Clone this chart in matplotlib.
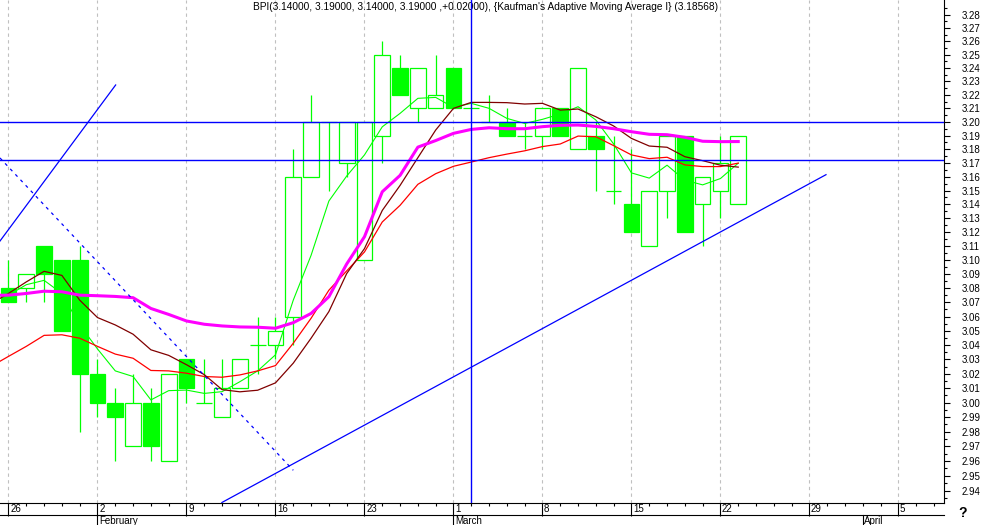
import numpy as np
import pandas as pd
import matplotlib
matplotlib.use("Agg")
import matplotlib.pyplot as plt
from matplotlib.ticker import FixedLocator, FixedFormatter, NullFormatter

plt.rcParams['font.family'] = ['Liberation Sans', 'DejaVu Sans']

# daily bars of BPI, 26 Jan - 23 Mar 2004
opens  = [3.08, 3.08, 3.11, 3.10, 3.10, 3.02, 3.00, 2.97, 3.00, 2.96,
          3.03, 3.00, 2.99, 3.01, 3.04, 3.04, 3.06, 3.16, 3.20, 3.17,
          3.10, 3.19, 3.24, 3.21, 3.21, 3.24, 3.21, 3.20, 3.20, 3.19,
          3.19, 3.21, 3.18, 3.19, 3.15, 3.14, 3.11, 3.15, 3.19, 3.14,
          3.15, 3.14]
highs  = [3.10, 3.09, 3.11, 3.10, 3.11, 3.03, 3.01, 3.02, 3.01, 3.02,
          3.03, 3.03, 3.03, 3.03, 3.06, 3.06, 3.18, 3.22, 3.20, 3.20,
          3.20, 3.26, 3.25, 3.24, 3.25, 3.24, 3.21, 3.22, 3.21, 3.20,
          3.21, 3.21, 3.24, 3.20, 3.19, 3.18, 3.15, 3.19, 3.19, 3.16,
          3.19, 3.19]
lows   = [3.07, 3.07, 3.07, 3.05, 2.98, 2.99, 2.96, 2.97, 2.96, 2.96,
          3.00, 3.00, 2.99, 3.01, 3.02, 3.03, 3.04, 3.16, 3.15, 3.16,
          3.10, 3.17, 3.22, 3.20, 3.21, 3.21, 3.21, 3.20, 3.19, 3.18,
          3.18, 3.19, 3.18, 3.15, 3.14, 3.12, 3.11, 3.13, 3.12, 3.11,
          3.13, 3.14]
closes = [3.07, 3.09, 3.09, 3.05, 3.02, 3.00, 2.99, 3.00, 2.97, 3.02,
          3.01, 3.00, 3.01, 3.03, 3.04, 3.05, 3.16, 3.20, 3.20, 3.20,
          3.20, 3.25, 3.22, 3.24, 3.22, 3.21, 3.21, 3.20, 3.19, 3.19,
          3.21, 3.19, 3.24, 3.18, 3.15, 3.12, 3.15, 3.19, 3.12, 3.16,
          3.17, 3.19]

# indicator lines, first value belongs to the day before the first bar
kama     = [3.075, 3.0751, 3.0763, 3.0779, 3.0775, 3.0751, 3.0747, 3.0742, 3.0733, 3.0657,
            3.0615, 3.0569, 3.0546, 3.0534, 3.0527, 3.0525, 3.0518, 3.0557, 3.0622, 3.074,
            3.0972, 3.1167, 3.1491, 3.161, 3.1816, 3.1864, 3.1917, 3.1946, 3.1958, 3.1951,
            3.1951, 3.1966, 3.1976, 3.1978, 3.1968, 3.1951, 3.1929, 3.191, 3.1907, 3.1888,
            3.1859, 3.1856, 3.18568]
ma_dark  = [3.069, 3.0763, 3.0845, 3.092, 3.0891, 3.0716, 3.0593, 3.0541, 3.0476, 3.0367,
            3.0328, 3.0263, 3.0194, 3.009, 3.0075, 3.0086, 3.0137, 3.0274, 3.0448, 3.0635,
            3.0904, 3.1082, 3.1356, 3.1537, 3.1739, 3.1941, 3.2101, 3.2145, 3.2145, 3.2143,
            3.2133, 3.2138, 3.2088, 3.2096, 3.2039, 3.1971, 3.188, 3.1824, 3.1815, 3.1746,
            3.1717, 3.1684, 3.167]
ma_red   = [3.025, 3.0321, 3.0391, 3.0468, 3.0472, 3.0448, 3.0391, 3.0337, 3.0308, 3.0223,
            3.022, 3.0204, 3.0181, 3.0176, 3.0192, 3.022, 3.0257, 3.0413, 3.0588, 3.0786,
            3.0923, 3.1058, 3.1273, 3.1393, 3.1545, 3.1622, 3.1676, 3.1707, 3.1739, 3.1765,
            3.1789, 3.182, 3.1839, 3.1897, 3.1892, 3.1827, 3.1759, 3.1732, 3.1742, 3.1686,
            3.1674, 3.1674, 3.1699]
ma_green = [np.nan, 3.0751, 3.0825, 3.0856, 3.0763, 3.0541, 3.0373, 3.022, 3.0181, 3.0019,
            3.0083, 3.0087, 3.0064, 3.0076, 3.0145, 3.022, 3.0332, 3.0716, 3.1034, 3.1424,
            3.1605, 3.1759, 3.1965, 3.2064, 3.2175, 3.2182, 3.2108, 3.2138, 3.2101, 3.2027,
            3.199, 3.202, 3.2059, 3.2113, 3.2015, 3.1839, 3.1628, 3.159, 3.1684, 3.1575,
            3.1541, 3.1587, 3.1699]

# drawn objects (bar index, price)
h_levels = [3.20, 3.1722]
v_day = 26
trend_up_short = [(-0.48, 3.1136), (6.02, 3.2274)]
trend_up_long = [(11.99, 2.9319), (45.93, 3.1615)]
trend_down = [(-0.48, 3.1737), (16.0, 2.9537)]

dates = pd.bdate_range('2004-01-26', periods=53)

GREEN = '#00ff00'
BLUE = '#0000ff'

fig = plt.figure(figsize=(9.82, 5.25), dpi=100)
ax = fig.add_axes([0, 22.5 / 525, 944 / 982, 502.5 / 525])
ax.set_yscale('log')
x0, x1 = -0.4775, 52.56
ax.set_xlim(x0, x1)
ax.set_ylim(2.9319, 3.2911)

# weekly grid
week_idx = [i for i, d in enumerate(dates) if d.weekday() == 0]
for i in week_idx:
    ax.axvline(i, color='#c0c0c0', lw=0.8, ls=(0, (3, 3)), zorder=0.5)

# candles
o, h, l, c = map(np.array, (opens, highs, lows, closes))
x = np.arange(len(o))
up, down, flat = c > o, c < o, np.isclose(c, o)
w = 0.88
ax.vlines(x, l, h, color=GREEN, lw=0.9, zorder=2)
ax.bar(x[up], (c - o)[up], bottom=o[up], width=w, facecolor='white',
       edgecolor=GREEN, lw=0.9, zorder=3)
ax.bar(x[down & ~flat], (o - c)[down & ~flat], bottom=c[down & ~flat], width=w,
       facecolor=GREEN, edgecolor=GREEN, lw=0.9, zorder=3)
ax.hlines(o[flat], x[flat] - w / 2, x[flat] + w / 2, color=GREEN, lw=0.9, zorder=3)

# indicators
xm = np.arange(-1, len(o))
ax.plot(xm, ma_green, color=GREEN, lw=0.8, zorder=4)
ax.plot(xm, ma_red, color='#ff0000', lw=0.9, zorder=4)
ax.plot(xm, ma_dark, color='#800000', lw=0.9, zorder=4)
ax.plot(xm, kama, color='#ff00ff', lw=2.2, zorder=4.5)

# drawing tools
for lv in h_levels:
    ax.axhline(lv, color=BLUE, lw=1.0, zorder=5)
ax.axvline(v_day, color=BLUE, lw=1.0, zorder=5)
for seg in (trend_up_short, trend_up_long):
    ax.plot([p[0] for p in seg], [p[1] for p in seg], color=BLUE, lw=0.9, zorder=5)
ax.plot([p[0] for p in trend_down], [p[1] for p in trend_down], color=BLUE,
        lw=0.9, ls=(0, (2.5, 3.5)), zorder=5)

# spines
for s in ('top', 'left'):
    ax.spines[s].set_visible(False)
for s in ('right', 'bottom'):
    ax.spines[s].set_linewidth(0.8)

# price axis
ax.yaxis.tick_right()
yt = np.round(np.arange(2.94, 3.2851, 0.01), 2)
ax.yaxis.set_major_locator(FixedLocator(yt))
ax.yaxis.set_major_formatter(FixedFormatter([f'{v:.2f}' for v in yt]))
ax.yaxis.set_minor_locator(FixedLocator(np.round(np.arange(2.935, 3.29, 0.01), 3)))
ax.yaxis.set_minor_formatter(NullFormatter())
ax.tick_params(axis='y', which='major', length=4.3, width=0.8, pad=8.2, labelsize=7)
ax.tick_params(axis='y', which='minor', length=2.2, width=0.8)

# date axis
ax.xaxis.set_major_locator(FixedLocator(week_idx))
ax.xaxis.set_minor_locator(FixedLocator(list(x) + list(range(len(o), 53))))
ax.tick_params(axis='x', which='major', length=9.0, width=0.8, labelbottom=False)
ax.tick_params(axis='x', which='minor', length=2.2, width=0.8)
xt = ax.get_xaxis_transform()
for i in week_idx:
    ax.text(i + 0.09, -0.0125, str(dates[i].day), transform=xt, ha='left',
            va='center', fontsize=7)
ax.plot([x0, x1], [-0.0245, -0.0245], transform=xt, color='black', lw=0.8, clip_on=False)
month_idx = [i for i in range(1, len(dates)) if dates[i].month != dates[i - 1].month]
for i in month_idx:
    ax.plot([i, i], [-0.0245, -0.06], transform=xt, color='black', lw=0.8, clip_on=False)
    ax.text(i + 0.09, -0.037, dates[i].strftime('%B'), transform=xt, ha='left',
            va='center', fontsize=7)

title = (f"BPI({opens[-1]:.5f}, {highs[-1]:.5f}, {lows[-1]:.5f}, {closes[-1]:.5f} ,"
         f"{closes[-1] - closes[-2]:+.5f}), {{Kaufman's Adaptive Moving Average I}} "
         f"({kama[-1]:.5f})")
ax.text(253 / 944, 1 - 7 / 502.5, title, transform=ax.transAxes, ha='left',
        va='center', fontsize=7.25, zorder=1)

fig.text(963 / 982, 1 - 513 / 525, '?', fontsize=10, fontweight='bold',
         ha='center', va='center')

fig.savefig('out.png', dpi=100)
